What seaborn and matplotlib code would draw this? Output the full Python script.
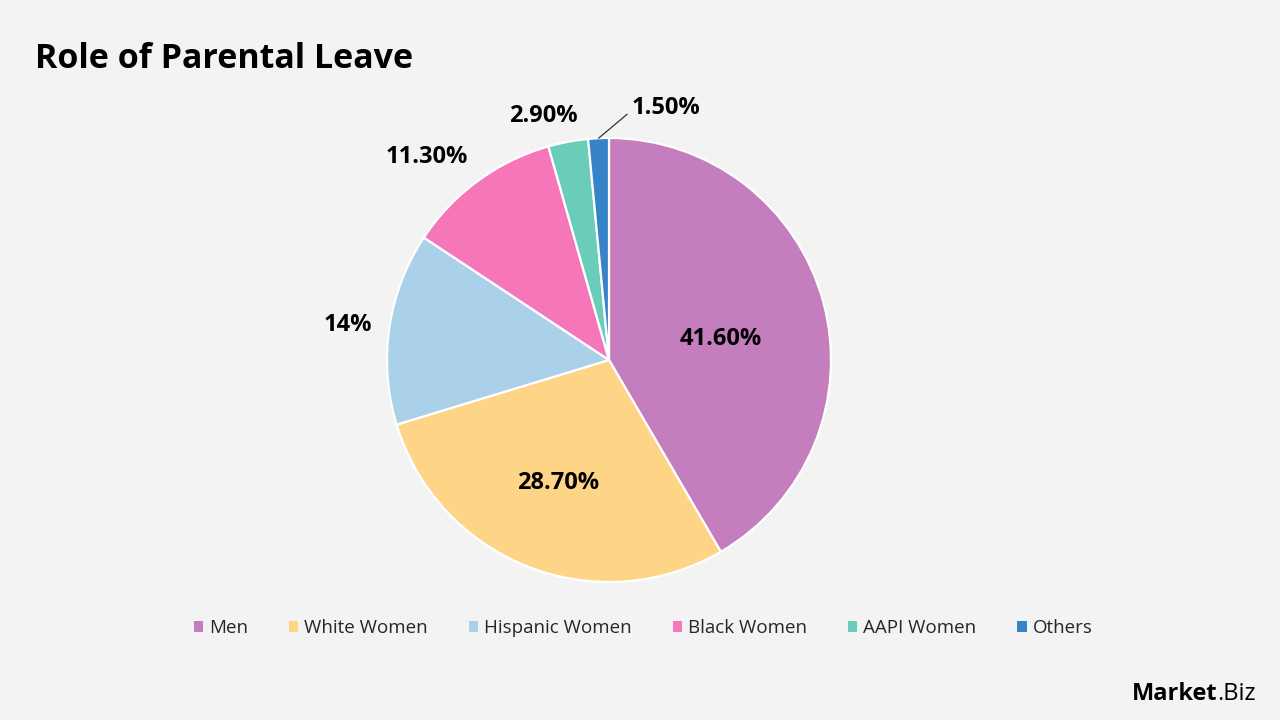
import numpy as np
import matplotlib
matplotlib.use("Agg")
import matplotlib.pyplot as plt
import seaborn as sns
from matplotlib.patches import Patch

categories = ["Men", "White Women", "Hispanic Women", "Black Women", "AAPI Women", "Others"]
values = [41.6, 28.7, 14.0, 11.3, 2.9, 1.5]
labels = ["41.60%", "28.70%", "14%", "11.30%", "2.90%", "1.50%"]
colors = ["#C47EBD", "#FED587", "#AAD0EA", "#F577BA", "#6ACDBA", "#3783C8"]

BG = "#F3F3F3"
sns.set_theme(style="white")
plt.rcParams["font.family"] = ["Open Sans", "DejaVu Sans"]

W, H = 1280, 720
fig = plt.figure(figsize=(12.8, 7.2), dpi=100, facecolor=BG)
ax = fig.add_axes([0, 0, 1, 1])
ax.set_facecolor(BG)
R = 222.0
cx, cy = 609.0, 360.0

wedges, _ = ax.pie(values, colors=colors, startangle=90, counterclock=False,
                   radius=1.0, wedgeprops=dict(edgecolor="white", linewidth=1.6))
ax.set_xlim(-cx / R, (W - cx) / R)
ax.set_ylim(-(H - cy) / R, cy / R)
ax.set_aspect("equal")
ax.axis("off")

# label placement styles: (radial distance, angle offset in degrees)
place = [(0.51, -4.5), (0.60, -1.0), (1.185, 0.7), (1.23, 5.7), (1.14, 4.4), (1.165, -15.4)]
for w, lab, (r, off) in zip(wedges, labels, place):
    mid = np.deg2rad((w.theta1 + w.theta2) / 2 + off)
    x, y = r * np.cos(mid), r * np.sin(mid)
    if lab == "1.50%":
        m0 = np.deg2rad((w.theta1 + w.theta2) / 2)
        ax.annotate(lab, xy=(1.0 * np.cos(m0), 1.0 * np.sin(m0)), xytext=(x, y),
                    ha="center", va="center", fontsize=17, fontweight="bold", color="black",
                    arrowprops=dict(arrowstyle="-", color="#333333", lw=0.9,
                                    shrinkA=1, shrinkB=0,
                                    connectionstyle="angle,angleA=180,angleB=40,rad=0",
                                    relpos=(0.0, 0.5)))
    else:
        ax.text(x, y, lab, ha="center", va="center", fontsize=17,
                fontweight="bold", color="black")

fig.text(35 / W, 1 - 59 / H, "Role of Parental Leave", fontsize=24.5, fontweight="bold",
         ha="left", va="center", color="black")

handles = [Patch(facecolor=c, edgecolor="none") for c in colors]
fig.legend(handles, categories, loc="center", bbox_to_anchor=(643 / W, 1 - 628 / H),
           ncol=6, frameon=False, fontsize=13.5, handlelength=0.5, handleheight=0.5,
           handletextpad=0.3, columnspacing=2.2, labelcolor="#262626")

fig.text(1256 / W, 1 - 700 / H, ".Biz", fontsize=17, ha="right", va="baseline", color="black")
fig.text(1218 / W, 1 - 700 / H, "Market", fontsize=17, fontweight="bold", ha="right",
         va="baseline", color="black")

fig.savefig("out.png", dpi=100, facecolor=BG)
